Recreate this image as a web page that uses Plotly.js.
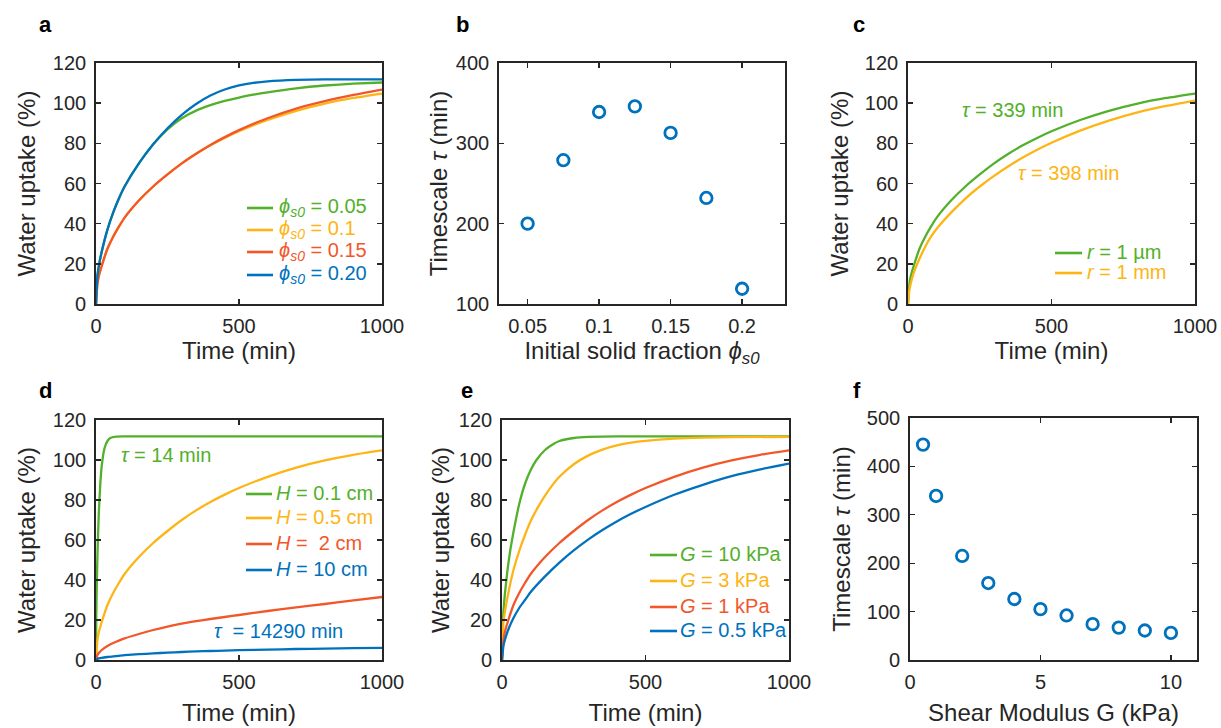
<!DOCTYPE html>
<html><head><meta charset="utf-8">
<script src="https://cdn.plot.ly/plotly-3.0.1.min.js"></script>
<style>html,body{margin:0;padding:0;background:#fff}#chart{width:1221px;height:728px}</style>
</head><body><div id="chart"></div>
<script>
// ---------- data ----------
const timeBase = [0,5,10,20,40,60,80,100,150,200,250,300,350,400,450,500,600,700,800,900,1000];
const timeFastA = [0,5,10,20,40,60,80,100,150,200,250,300,350,400,450,500,550,600,700,800,900,1000];
const timeH01 = [0,1,2,4,6,8,10,15,20,30,40,50,70,100,1000];
const timeG10 = [0,2,5,10,20,30,40,60,80,100,120,150,175,200,250,300,400,1000];
const timeG3 = [0,5,10,20,40,60,80,100,125,150,175,200,250,300,350,400,450,500,600,700,800,1000];

// panel a: initial solid fraction
const phiLabels = ['0.05','0.1','0.15','0.20'];
const uptakePhi005 = [0,14,19,26,37,45.5,52.5,58.5,70,79.5,87,92.5,96.3,99,101.1,102.8,104.2,105.4,107.4,108.8,109.7,110.3];
const uptakePhi010 = [0,10,14,19,27.5,33.5,38.5,43,51.5,58.5,64.5,70,74.8,79,82.7,86,91.6,96.2,99.8,102.6,104.8];
const uptakePhi015 = [0,10,14,19,27.5,33.5,38.5,43,51.5,58.5,64.5,70,74.8,79.2,83.1,86.6,92.5,97.3,101,104.1,106.8];
const uptakePhi020 = [0,14,19,26,37,45.5,52.5,58.5,70,79.5,87.5,94.2,99.6,103.8,106.8,108.8,110.1,110.9,111.6,111.8,111.8,111.8];

// panel b: timescale vs solid fraction
const phiS0 = [0.05,0.075,0.1,0.125,0.15,0.175,0.2];
const tauPhi = [200,279,339,346,313,232,119];

// panel c: particle radius
const radiusLabels = ['1 µm','1 mm'];
const uptakeR1um = [0,10,14,19,27.5,33.5,38.5,43,51.5,58.5,64.5,70,74.8,79,82.7,86,91.6,96.2,99.8,102.6,104.8];
const uptakeR1mm = [0,7,10.5,15.5,22.5,28.5,33.5,37.5,45.5,52.5,58.5,63.8,68.6,72.9,76.8,80.3,86.3,91.3,95.4,98.6,101.3];
const tauRadius = [339,398];

// panel d: thickness H
const heightLabels = ['0.1 cm','0.5 cm','\u00a02 cm','10 cm'];
const uptakeH01 = [0,22,32,46,57,66,74,88,97,106,109.5,111,111.7,111.8,111.8];
const uptakeH05 = [0,10,14,19,27.5,33.5,38.5,43,51.5,58.5,64.5,70,74.8,79,82.7,86,91.6,96.2,99.8,102.6,104.8];
const uptakeH2 = [0,2.5,3.5,5,7,8.5,9.7,10.8,13,15,16.7,18.2,19.4,20.5,21.5,22.5,24.5,26.3,28,29.8,31.5];
const uptakeH10 = [0,0.5,0.8,1.1,1.5,1.8,2.1,2.4,2.9,3.3,3.7,4,4.3,4.5,4.7,4.9,5.2,5.5,5.7,5.9,6.1];
const tauHeight = [14,14290];

// panel e: shear modulus curves
const shearLabels = ['10 kPa','3 kPa','1 kPa','0.5 kPa'];
const uptakeG10 = [0,15,24,33,46,56,64,78,88,95,100,105,107.6,109.5,111,111.6,111.8,111.8];
const uptakeG3 = [0,19,24,32,45,54.5,62.5,69.5,76.3,82.2,87.3,91.6,97.9,102.2,105.2,107.3,108.7,109.6,110.7,111.2,111.4,111.6];
const uptakeG1 = [0,10,14,19,27.5,33.5,38.5,43,51.5,58.5,64.5,70,74.8,79,82.7,86,91.6,96.2,99.8,102.6,104.8];
const uptakeG05 = [0,7,10,14.5,21,26,30,34,41.8,48.7,54.8,60.2,65,69.3,73.1,76.5,82.6,87.6,91.9,95.3,98.2];

// panel f: timescale vs shear modulus
const shearG = [0.5,1,2,3,4,5,6,7,8,9,10];
const tauG = [445,339,215,159,126,105,92,74,67,61,56];

// ---------- style ----------
const W = 1221, H = 728;
const F = 'Liberation Sans, Arial, Helvetica, sans-serif';
const INK = '#262626';
const C = {green:'#52B02A', orange:'#FDB515', red:'#F2572A', blue:'#0072BD'};
const px = x => x / W;
const py = y => 1 - y / H;

function line(x, y, color, xa, ya) {
  return {x, y, type:'scatter', mode:'lines', xaxis:xa, yaxis:ya, showlegend:false,
          hoverinfo:'skip', line:{color, width:2.3, shape:'spline', smoothing:0.5}};
}
function pts(x, y, xa, ya) {
  return {x, y, type:'scatter', mode:'markers', xaxis:xa, yaxis:ya, showlegend:false,
          marker:{symbol:'circle-open', size:11.5, color:C.blue, line:{width:2.8, color:C.blue}}};
}

const traces = [
  line(timeFastA, uptakePhi005, C.green, 'x', 'y'),
  line(timeBase, uptakePhi010, C.orange, 'x', 'y'),
  line(timeBase, uptakePhi015, C.red, 'x', 'y'),
  line(timeFastA, uptakePhi020, C.blue, 'x', 'y'),
  pts(phiS0, tauPhi, 'x2', 'y2'),
  line(timeBase, uptakeR1um, C.green, 'x3', 'y3'),
  line(timeBase, uptakeR1mm, C.orange, 'x3', 'y3'),
  line(timeH01, uptakeH01, C.green, 'x4', 'y4'),
  line(timeBase, uptakeH05, C.orange, 'x4', 'y4'),
  line(timeBase, uptakeH2, C.red, 'x4', 'y4'),
  line(timeBase, uptakeH10, C.blue, 'x4', 'y4'),
  line(timeG10, uptakeG10, C.green, 'x5', 'y5'),
  line(timeG3, uptakeG3, C.orange, 'x5', 'y5'),
  line(timeBase, uptakeG1, C.red, 'x5', 'y5'),
  line(timeBase, uptakeG05, C.blue, 'x5', 'y5'),
  pts(shearG, tauG, 'x6', 'y6')
];

function ax(extra) {
  return Object.assign({
    showline:true, linecolor:INK, linewidth:1.8, mirror:'ticks',
    ticks:'inside', ticklen:5, tickwidth:1.4, tickcolor:INK,
    showgrid:false, zeroline:false, fixedrange:true,
    tickfont:{family:F, size:20, color:INK}
  }, extra);
}
function xt(text, s) { return {text, font:{family:F, size:24, color:INK}, standoff:s}; }
function yt(text, s) { return {text, font:{family:F, size:24, color:INK}, standoff:s}; }

// pixel boxes of the six panels [left, right, top, bottom]
const boxes = {
  a:[96,382,63,304], b:[499,785,63,304], c:[908,1195,63,304],
  d:[96,382,420,660], e:[502,789,420,660], f:[910,1197,418,660]
};
const dx = b => [px(b[0]), px(b[1])];
const dy = b => [py(b[3]), py(b[2])];

const uptakeTitle = 'Water uptake (%)';
const timeTitle = 'Time (min)';
const tauTitle = 'Timescale <i>τ</i> (min)';
const XS = 3, YS = 4;

const layout = {
  width:W, height:H, margin:{l:0,r:0,t:0,b:0},
  paper_bgcolor:'#fff', plot_bgcolor:'#fff', showlegend:false,
  font:{family:F, color:INK},
  xaxis: ax({domain:dx(boxes.a), anchor:'y', range:[0,1000], tickvals:[0,500,1000], ticklabelstandoff:XS, title:xt(timeTitle,0)}),
  yaxis: ax({domain:dy(boxes.a), anchor:'x', range:[0,120], dtick:20, ticklabelstandoff:YS, title:yt(uptakeTitle,10)}),
  xaxis2: ax({domain:dx(boxes.b), anchor:'y2', range:[0.03,0.23], tickvals:[0.05,0.1,0.15,0.2], ticktext:['0.05','0.1','0.15','0.2'], ticklabelstandoff:XS, title:xt('Initial solid fraction <i>ϕ</i><sub><i>s0</i></sub>',0)}),
  yaxis2: ax({domain:dy(boxes.b), anchor:'x2', range:[100,400], dtick:100, ticklabelstandoff:YS, title:yt(tauTitle,1)}),
  xaxis3: ax({domain:dx(boxes.c), anchor:'y3', range:[0,1000], tickvals:[0,500,1000], ticklabelstandoff:XS, title:xt(timeTitle,0)}),
  yaxis3: ax({domain:dy(boxes.c), anchor:'x3', range:[0,120], dtick:20, ticklabelstandoff:YS, title:yt(uptakeTitle,9)}),
  xaxis4: ax({domain:dx(boxes.d), anchor:'y4', range:[0,1000], tickvals:[0,500,1000], ticklabelstandoff:XS, title:xt(timeTitle,12)}),
  yaxis4: ax({domain:dy(boxes.d), anchor:'x4', range:[0,120], dtick:20, ticklabelstandoff:YS, title:yt(uptakeTitle,10)}),
  xaxis5: ax({domain:dx(boxes.e), anchor:'y5', range:[0,1000], tickvals:[0,500,1000], ticklabelstandoff:XS, title:xt(timeTitle,12)}),
  yaxis5: ax({domain:dy(boxes.e), anchor:'x5', range:[0,120], dtick:20, ticklabelstandoff:YS, title:yt(uptakeTitle,2)}),
  xaxis6: ax({domain:dx(boxes.f), anchor:'y6', range:[0,11], tickvals:[0,5,10], ticklabelstandoff:XS, title:xt('Shear Modulus G (kPa)',12)}),
  yaxis6: ax({domain:dy(boxes.f), anchor:'x6', range:[0,500], dtick:100, ticklabelstandoff:YS, title:yt(tauTitle,9)}),
  shapes:[], annotations:[]
};

// panel letters
[['a',45,25],['b',462,25],['c',859,25],['d',45,390],['e',467,390],['f',857,390]].forEach(([t,x,y]) => {
  layout.annotations.push({text:'<b>'+t+'</b>', x:px(x), y:py(y), xref:'paper', yref:'paper',
    xanchor:'center', yanchor:'middle', showarrow:false, font:{family:F, size:22, color:'#000'}});
});

// in-plot legends made of a short line and coloured text
function legend(x0, x1, tx, rows) {
  rows.forEach(([label, color, ly]) => {
    layout.shapes.push({type:'line', xref:'paper', yref:'paper', x0:px(x0), x1:px(x1), y0:py(ly), y1:py(ly),
      line:{color, width:2.6}});
    layout.annotations.push({text:label, x:px(tx), y:py(ly-1), xref:'paper', yref:'paper',
      xanchor:'left', yanchor:'middle', showarrow:false, font:{family:F, size:20, color}});
  });
}
const phiColors = [C.green, C.orange, C.red, C.blue];
legend(247, 273, 277, phiLabels.map((l,i) => ['<i>ϕ</i><sub><i>s0</i></sub> = ' + l, phiColors[i], [208,230,252,275][i]]));
legend(1055, 1082, 1085, radiusLabels.map((l,i) => ['<i>r</i> = ' + l, [C.green,C.orange][i], [253,273][i]]));
legend(246, 272, 274, heightLabels.map((l,i) => ['<i>H</i> = ' + l, phiColors[i], [494,518,544,570][i]]));
legend(650, 677, 678, shearLabels.map((l,i) => ['<i>G</i> = ' + l, phiColors[i], [555,581,607,631][i]]));

// timescale notes
function note(text, x, y, color) {
  layout.annotations.push({text, x:px(x), y:py(y), xref:'paper', yref:'paper', xanchor:'left', yanchor:'middle',
    showarrow:false, font:{family:F, size:20, color}});
}
note('<i>τ</i> = ' + tauRadius[0] + ' min', 960, 110, C.green);
note('<i>τ</i> = ' + tauRadius[1] + ' min', 1016, 173, C.orange);
note('<i>τ</i> = ' + tauHeight[0] + ' min', 119, 455, C.green);
note('<i>τ</i>\u00a0 = ' + tauHeight[1] + ' min', 212, 631, C.blue);

Plotly.newPlot('chart', traces, layout, {staticPlot:true, displayModeBar:false});
</script>
</body></html>
